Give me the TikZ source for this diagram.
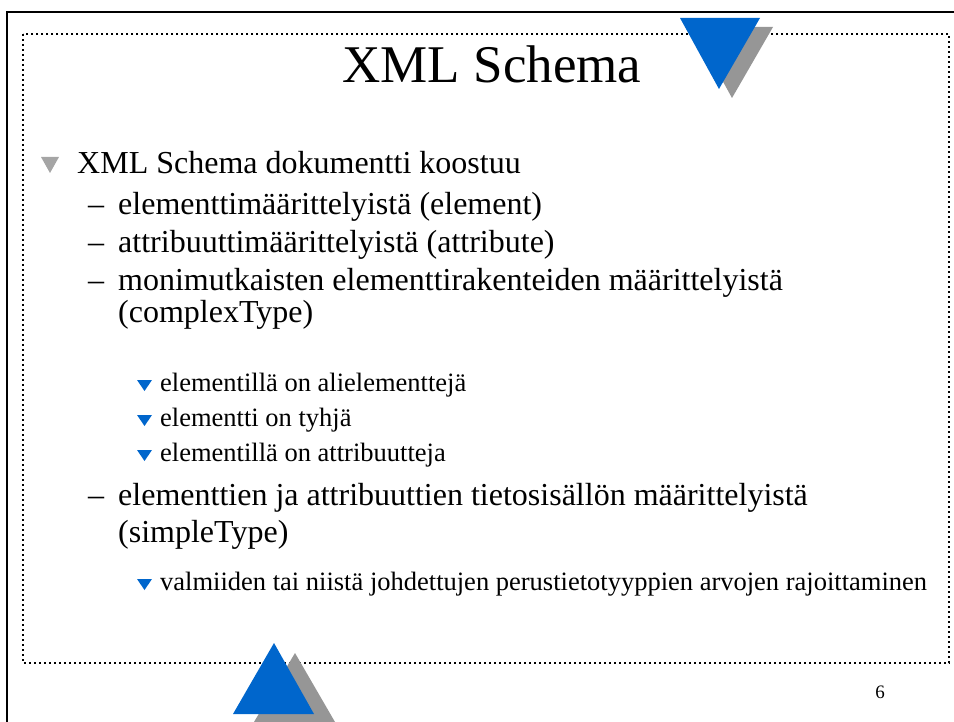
\documentclass[tikz,border=0pt]{standalone}
\usepackage{fontspec}
\setmainfont{Liberation Serif}
\usepackage{tikz}
\usetikzlibrary{calc}
\definecolor{slideblue}{RGB}{0,102,204}
\definecolor{shadowgray}{RGB}{150,150,150}
\definecolor{bulletgray}{RGB}{165,165,165}
\tikzstyle{title}=[anchor=base,inner sep=0pt,font=\fontsize{53}{60}\selectfont]
\tikzstyle{levelone}=[anchor=base west,inner sep=0pt,font=\fontsize{32}{38}\selectfont]
\tikzstyle{leveltwo}=[anchor=base west,inner sep=0pt,font=\fontsize{32}{38}\selectfont]
\tikzstyle{levelthree}=[anchor=base west,inner sep=0pt,font=\fontsize{26.5}{32}\selectfont]
\tikzstyle{dotframe}=[draw,line width=2pt,dash pattern=on 2pt off 3pt]

\begin{document}
\begin{tikzpicture}[x=1pt,y=-1pt]

    \useasboundingbox (0,0) rectangle (954,722);

    % frames
    \draw[line width=2.5pt] (7,722) -- (7,12) -- (954,12);
    \path[dotframe] (23,34) rectangle (949,663);

    % triangles with their shadows
    \fill[shadowgray] (693,27) -- (773,27) -- (732,98) -- cycle;
    \fill[slideblue] (680,18) -- (760,18) -- (719,89) -- cycle;
    \fill[shadowgray] (254,722) -- (335,722) -- (295,653) -- cycle;
    \fill[slideblue] (233,714) -- (314,714) -- (274,643) -- cycle;

    \node[title] (title) at (492,83) {XML Schema};

    \fill[bulletgray] (41,157) -- (59,157) -- (50,173) -- cycle;
    \node[levelone] (doc) at (77,174) {XML Schema dokumentti koostuu};

    % second level
    \foreach \y/ \name/ \txt in {215/elem/{elementtimäärittelyistä (element)}, 253/attr/{attribuuttimäärittelyistä (attribute)}, 291/complex/{monimutkaisten elementtirakenteiden määrittelyistä}, 505/simple/{elementtien ja attribuuttien tietosisällön määrittelyistä}}
    {
        \node[leveltwo] (dash\name) at (88,\y) {–};
        \node[leveltwo] (\name) at (118,\y) {\txt};
    }
    \node[leveltwo] (complexb) at (118,323) {(complexType)};
    \node[leveltwo] (simpleb) at (118,542) {(simpleType)};

    % third level
    \foreach \y/ \name/ \txt in {391/sub/{elementillä on alielementtejä}, 426/empty/{elementti on tyhjä}, 461/attrs/{elementillä on attribuutteja}, 590/restrict/{valmiiden tai niistä johdettujen perustietotyyppien arvojen rajoittaminen}}
    {
        \fill[slideblue] (137,\y-11) -- (152,\y-11) -- (144.5,\y) -- cycle;
        \node[levelthree] (\name) at (160,\y) {\txt};
    }

    \node[anchor=base,inner sep=0pt,font=\fontsize{19}{22}\selectfont] (pagenum) at (880,698) {6};

\end{tikzpicture}
\end{document}
